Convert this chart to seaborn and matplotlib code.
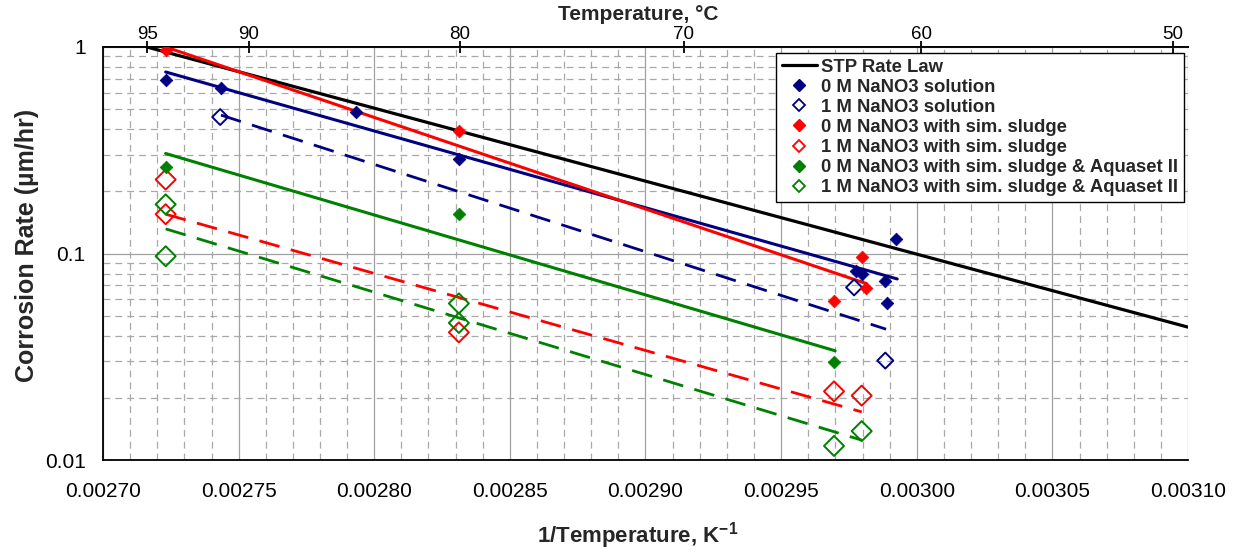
import numpy as np
import matplotlib
matplotlib.use("Agg")
import matplotlib.pyplot as plt
from matplotlib.lines import Line2D
from matplotlib.ticker import MultipleLocator, FixedLocator, FixedFormatter, LogLocator, NullLocator, NullFormatter
import seaborn as sns

# ---- measured corrosion rates (x = 1/T in 1/K, y = rate in um/hr) ----
sol0_x = [0.0027231, 0.0027435, 0.0027934, 0.0028312, 0.0029925, 0.0029776, 0.0029798, 0.0029884, 0.0029889]
sol0_y = [0.695, 0.633, 0.484, 0.288, 0.118, 0.0824, 0.0800, 0.0734, 0.0577]

sol1_x = [0.0027432, 0.0029769, 0.0029884]
sol1_y = [0.458, 0.0685, 0.0303]

sl0_x = [0.0027231, 0.0028312, 0.0029798, 0.0029813, 0.0029695]
sl0_y = [0.964, 0.392, 0.0957, 0.0682, 0.0588]

sl1_x = [0.0027231, 0.0027231, 0.0028312, 0.0029695, 0.0029797]
sl1_y = [0.228, 0.155, 0.0415, 0.0215, 0.0205]

aq0_x = [0.0027231, 0.0028312, 0.0029695]
aq0_y = [0.261, 0.155, 0.0299]

aq1_x = [0.0027231, 0.0027231, 0.0028312, 0.0028312, 0.0029797, 0.0029695]
aq1_y = [0.173, 0.097, 0.0573, 0.0461, 0.0138, 0.0117]

# ---- rate law and trend lines (end points) ----
stp_x = [0.0027162, 0.0031]
stp_y = [1.0, 0.044]
fit_sol0_x, fit_sol0_y = [0.0027231, 0.0029928], [0.757, 0.0753]
fit_sol1_x, fit_sol1_y = [0.0027435, 0.0029887], [0.468, 0.043]
fit_sl0_x, fit_sl0_y = [0.0027231, 0.0029813], [1.0, 0.0716]
fit_sl1_x, fit_sl1_y = [0.0027231, 0.0029797], [0.155, 0.0171]
fit_aq0_x, fit_aq0_y = [0.0027231, 0.0029699], [0.305, 0.0338]
fit_aq1_x, fit_aq1_y = [0.0027231, 0.0029797], [0.1316, 0.01248]

labels = [
    "STP Rate Law",
    "0 M NaNO3 solution",
    "1 M NaNO3 solution",
    "0 M NaNO3 with sim. sludge",
    "1 M NaNO3 with sim. sludge",
    "0 M NaNO3 with sim. sludge & Aquaset II",
    "1 M NaNO3 with sim. sludge & Aquaset II",
]
x_ticks = [0.00270, 0.00275, 0.00280, 0.00285, 0.00290, 0.00295, 0.00300, 0.00305, 0.00310]
y_ticks = [0.01, 0.1, 1]
y_tick_labels = ["0.01", "0.1", "1"]
top_ticks = [95, 90, 80, 70, 60, 50]

NAVY, RED, GREEN = "#000080", "#ff0000", "#008000"

sns.set_theme(style="white")
plt.rcParams["font.family"] = ["Liberation Sans", "DejaVu Sans"]
plt.rcParams["mathtext.fontset"] = "custom"
plt.rcParams["mathtext.rm"] = "Liberation Sans"
plt.rcParams["mathtext.bf"] = "Liberation Sans:bold"

W, H = 1237, 554
fig = plt.figure(figsize=(W / 100, H / 100), dpi=100)
L, R, T, B = 103, 1188, 47, 460
ax = fig.add_axes([L / W, 1 - B / H, (R - L) / W, (B - T) / H])
ax.set_yscale("log")
ax.set_xlim(0.0027, 0.0031)
ax.set_ylim(0.01, 1)

# grid
ax.xaxis.set_major_locator(FixedLocator(x_ticks))
ax.xaxis.set_minor_locator(MultipleLocator(0.00001))
ax.yaxis.set_major_locator(FixedLocator(y_ticks))
ax.yaxis.set_major_formatter(FixedFormatter(y_tick_labels))
ax.yaxis.set_minor_locator(LogLocator(base=10, subs=range(2, 10)))
ax.yaxis.set_minor_formatter(NullFormatter())
ax.set_xticklabels([f"{v:.5f}" for v in x_ticks])
ax.set_axisbelow(True)
ax.grid(which="major", color="#a0a0a0", lw=0.9, ls="-")
ax.grid(which="minor", color="#a8a8a8", lw=0.9, ls=(0, (5.5, 4)))
ax.tick_params(which="minor", length=0)
ax.tick_params(which="major", direction="out", length=4.5, width=1, color="black",
               labelsize=15, colors="black")
ax.tick_params(axis="x", pad=11)
ax.tick_params(axis="y", pad=8)
for side in ["left", "bottom", "top"]:
    ax.spines[side].set_color("black")
    ax.spines[side].set_linewidth(1.3)
ax.spines["right"].set_visible(False)


def trend(xs, ys, color, dashed=False, lw=2.2):
    ls = (0, (7.5, 4.2)) if dashed else "-"
    sns.lineplot(x=xs, y=ys, color=color, lw=lw, ls=ls, ax=ax, estimator=None,
                 sort=False, legend=False, zorder=2)


trend(stp_x, stp_y, "black", lw=2.3)
trend(fit_sol0_x, fit_sol0_y, NAVY)
trend(fit_sol1_x, fit_sol1_y, NAVY, dashed=True, lw=2.0)
trend(fit_sl0_x, fit_sl0_y, RED)
trend(fit_sl1_x, fit_sl1_y, RED, dashed=True, lw=2.0)
trend(fit_aq0_x, fit_aq0_y, GREEN)
trend(fit_aq1_x, fit_aq1_y, GREEN, dashed=True, lw=2.0)


def filled(xs, ys, color):
    sns.scatterplot(x=xs, y=ys, marker="D", s=42, color=color, edgecolor=color,
                    linewidth=0.5, ax=ax, legend=False, zorder=3)


def hollow(xs, ys, color, s=104):
    sns.scatterplot(x=xs, y=ys, marker="D", s=s, color=color, facecolors="none",
                    edgecolor=color, linewidth=1.4, ax=ax, legend=False, zorder=3)


filled(sol0_x, sol0_y, NAVY)
hollow(sol1_x, sol1_y, NAVY, s=66)
filled(sl0_x, sl0_y, RED)
hollow(sl1_x, sl1_y, RED)
filled(aq0_x, aq0_y, GREEN)
hollow(aq1_x, aq1_y, GREEN)

# secondary temperature axis (deg C) on top
def inv_to_c(x):
    x = np.asarray(x, dtype=float)
    with np.errstate(divide="ignore", invalid="ignore"):
        return 1.0 / x - 273.15


def c_to_inv(t):
    t = np.asarray(t, dtype=float)
    with np.errstate(divide="ignore", invalid="ignore"):
        return 1.0 / (t + 273.15)


sec = ax.secondary_xaxis("top", functions=(inv_to_c, c_to_inv))
sec.set_xticks(top_ticks)
sec.set_xticklabels([str(t) for t in top_ticks])
sec.xaxis.set_minor_locator(NullLocator())
sec.tick_params(direction="inout", length=8.5, width=1.3, labelsize=13.5, pad=-1.3, colors="black")
sec.spines["top"].set_linewidth(1.3)
sec.spines["top"].set_color("black")

fig.text(638 / W, 1 - 20.5 / H, "Temperature, °C", ha="center", va="baseline",
         fontsize=15, fontweight="bold")
fig.text(638 / W, 1 - 536 / H, r"1/Temperature, K$^{\mathbf{-1}}$", ha="center",
         va="center", fontsize=16, fontweight="bold")
fig.text(27.5 / W, 1 - 245 / H, "Corrosion Rate (µm/hr)", ha="center", va="center",
         rotation=90, fontsize=18, fontweight="bold")

handles = [
    Line2D([], [], color="black", lw=2.3),
    Line2D([], [], ls="", marker="D", ms=6.5, color=NAVY, mec=NAVY),
    Line2D([], [], ls="", marker="D", ms=6, mfc="none", mec=NAVY, mew=1.3),
    Line2D([], [], ls="", marker="D", ms=6.5, color=RED, mec=RED),
    Line2D([], [], ls="", marker="D", ms=6, mfc="none", mec=RED, mew=1.3),
    Line2D([], [], ls="", marker="D", ms=6.5, color=GREEN, mec=GREEN),
    Line2D([], [], ls="", marker="D", ms=6, mfc="none", mec=GREEN, mew=1.3),
]
leg = ax.legend(handles, labels, loc="upper right",
                bbox_to_anchor=(1184 / W, 1 - 53 / H), bbox_transform=fig.transFigure,
                borderaxespad=0, fancybox=False, framealpha=1, edgecolor="black",
                prop={"weight": "bold", "size": 13.3}, handlelength=1.9,
                handletextpad=0.25, labelspacing=0.17, borderpad=0.3)
leg.get_frame().set_linewidth(1.0)
leg.set_zorder(5)

fig.savefig("out.png", dpi=100)
